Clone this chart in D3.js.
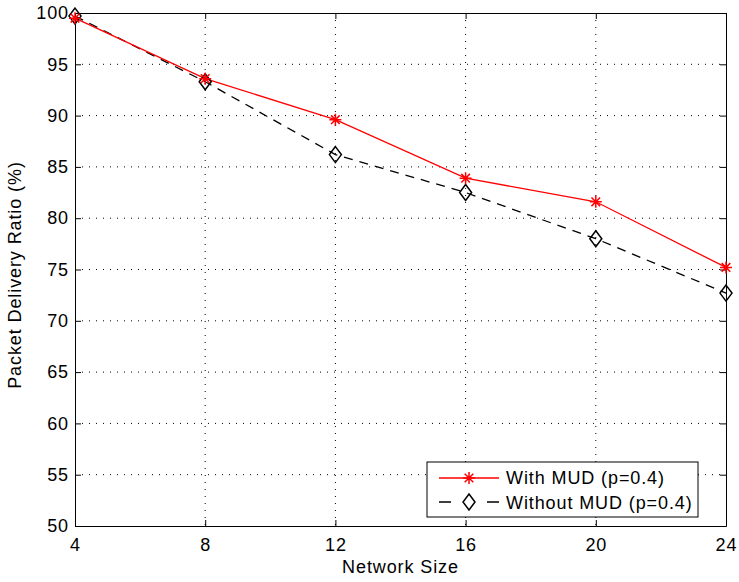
<!DOCTYPE html>
<html>
<head>
<meta charset="utf-8">
<script src="https://cdn.jsdelivr.net/npm/d3@7"></script>
<style>
  body { margin: 0; background: #fff; }
  svg { font-family: "Liberation Sans", Arial, Helvetica, sans-serif; }
</style>
</head>
<body>
<div id="chart"></div>
<script>
const networkSize = [4, 8, 12, 16, 20, 24];
const withMUD = [99.5, 93.6, 89.6, 83.9, 81.6, 75.2];
const withoutMUD = [99.7, 93.3, 86.2, 82.5, 78.0, 72.7];
const yTicks = [50, 55, 60, 65, 70, 75, 80, 85, 90, 95, 100];

const WIDTH = 739, HEIGHT = 582;
const MARGIN = { left: 75, top: 13, right: 13, bottom: 56 };
const INNER_WIDTH = WIDTH - MARGIN.left - MARGIN.right;
const INNER_HEIGHT = HEIGHT - MARGIN.top - MARGIN.bottom;

const svg = d3.select("#chart")
  .append("svg")
  .attr("width", WIDTH)
  .attr("height", HEIGHT)
  .append("g")
  .attr("transform", `translate(${MARGIN.left}, ${MARGIN.top})`);

const x = d3.scaleLinear().domain([4, 24]).range([0, INNER_WIDTH]);
const y = d3.scaleLinear().domain([50, 100]).range([INNER_HEIGHT, 0]);

// dotted grid
svg.append("g")
  .selectAll("line")
  .data(networkSize.slice(1, -1))
  .join("line")
  .attr("x1", d => x(d)).attr("x2", d => x(d))
  .attr("y1", 0).attr("y2", INNER_HEIGHT)
  .attr("stroke", "#000").attr("stroke-width", 1)
  .attr("stroke-dasharray", "1,6");

svg.append("g")
  .selectAll("line")
  .data(yTicks.slice(1, -1))
  .join("line")
  .attr("x1", 0).attr("x2", INNER_WIDTH)
  .attr("y1", d => y(d)).attr("y2", d => y(d))
  .attr("stroke", "#000").attr("stroke-width", 1)
  .attr("stroke-dasharray", "1,6");

// axes (ticks inside, mirrored)
const fontSize = "18px";
const spacing = "0.9px";
svg.append("g")
  .attr("transform", `translate(0, ${INNER_HEIGHT})`)
  .call(d3.axisBottom(x).tickValues(networkSize).tickSizeInner(-6).tickSizeOuter(0).tickPadding(12));
svg.append("g")
  .call(d3.axisLeft(y).tickValues(yTicks).tickSizeInner(-6).tickSizeOuter(0).tickPadding(6));
svg.append("g")
  .call(d3.axisTop(x).tickValues(networkSize).tickSizeInner(-6).tickSizeOuter(0).tickFormat(""));
svg.append("g")
  .attr("transform", `translate(${INNER_WIDTH}, 0)`)
  .call(d3.axisRight(y).tickValues(yTicks).tickSizeInner(-6).tickSizeOuter(0).tickFormat(""));

svg.selectAll(".tick text")
  .style("font-size", fontSize)
  .style("letter-spacing", spacing)
  .style("font-family", "'Liberation Sans', Arial, sans-serif")
  .attr("fill", "#000");
svg.selectAll(".domain, .tick line").attr("stroke", "#000");

// lines
const line = d3.line().x((d, i) => x(networkSize[i])).y(d => y(d));

svg.append("path")
  .datum(withoutMUD)
  .attr("d", line)
  .attr("fill", "none")
  .attr("stroke", "#000")
  .attr("stroke-width", 1.3)
  .attr("stroke-dasharray", "9,7");

svg.append("path")
  .datum(withMUD)
  .attr("d", line)
  .attr("fill", "none")
  .attr("stroke", "#ff0000")
  .attr("stroke-width", 1.3);

const diamond = "M0,-8L6,0L0,8L-6,0Z";
function star() {
  const r = 6;
  const k = r * 0.72;
  return `M${-r},0L${r},0M0,${-r}L0,${r}M${-k},${-k}L${k},${k}M${-k},${k}L${k},${-k}`;
}

svg.append("g")
  .selectAll("path")
  .data(withoutMUD)
  .join("path")
  .attr("transform", (d, i) => `translate(${x(networkSize[i])}, ${y(d)})`)
  .attr("d", diamond)
  .attr("fill", "none")
  .attr("stroke", "#000")
  .attr("stroke-width", 1.5);

svg.append("g")
  .selectAll("path")
  .data(withMUD)
  .join("path")
  .attr("transform", (d, i) => `translate(${x(networkSize[i])}, ${y(d)})`)
  .attr("d", star())
  .attr("fill", "none")
  .attr("stroke", "#ff0000")
  .attr("stroke-width", 1.5);

// legend
const lx = 427 - MARGIN.left, ly = 462 - MARGIN.top;
const legend = svg.append("g").attr("transform", `translate(${lx}, ${ly})`);
legend.append("rect")
  .attr("width", 271).attr("height", 55)
  .attr("fill", "#fff").attr("stroke", "#000").attr("stroke-width", 1);
legend.append("line")
  .attr("x1", 12).attr("x2", 72).attr("y1", 16).attr("y2", 16)
  .attr("stroke", "#ff0000").attr("stroke-width", 1.3);
legend.append("path")
  .attr("transform", "translate(42,16)")
  .attr("d", star()).attr("fill", "none")
  .attr("stroke", "#ff0000").attr("stroke-width", 1.5);
legend.append("line")
  .attr("x1", 12).attr("x2", 72).attr("y1", 40).attr("y2", 40)
  .attr("stroke", "#000").attr("stroke-width", 1.3)
  .attr("stroke-dasharray", "12,36");
legend.append("path")
  .attr("transform", "translate(42,40)")
  .attr("d", diamond).attr("fill", "#fff")
  .attr("stroke", "#000").attr("stroke-width", 1.5);
legend.append("text")
  .attr("x", 79).attr("y", 22)
  .style("font-size", fontSize)
  .style("letter-spacing", spacing)
  .text("With MUD (p=0.4)");
legend.append("text")
  .attr("x", 79).attr("y", 47)
  .style("font-size", fontSize)
  .style("letter-spacing", spacing)
  .text("Without MUD (p=0.4)");

// axis labels
svg.append("text")
  .attr("x", INNER_WIDTH / 2)
  .attr("y", INNER_HEIGHT + 47)
  .attr("text-anchor", "middle")
  .style("font-size", fontSize)
  .style("letter-spacing", spacing)
  .text("Network Size");

svg.append("text")
  .attr("transform", "rotate(-90)")
  .attr("x", -262)
  .attr("y", -54)
  .attr("text-anchor", "middle")
  .style("font-size", fontSize)
  .style("letter-spacing", spacing)
  .text("Packet Delivery Ratio (%)");
</script>
</body>
</html>
